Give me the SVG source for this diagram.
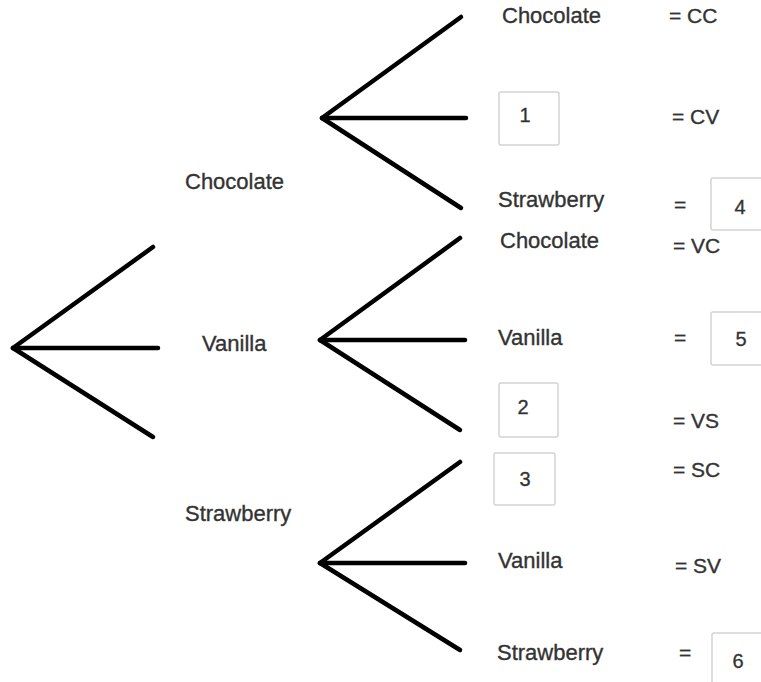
<svg xmlns="http://www.w3.org/2000/svg" width="761" height="682" viewBox="0 0 761 682">
<style>
.lbl{font-family:"Liberation Sans",Arial,sans-serif;font-size:22px;fill:#333;stroke:#333;stroke-width:0.35;}
.eq{font-family:"Liberation Sans",Arial,sans-serif;font-size:21px;fill:#333;stroke:#333;stroke-width:0.35;}
.num{font-family:"Liberation Sans",Arial,sans-serif;font-size:20px;fill:#333;stroke:#333;stroke-width:0.3;text-anchor:middle;}
.box{fill:#fff;stroke:#d4d4d4;stroke-width:1.5;}
.br{stroke:#000;stroke-width:4.5;stroke-linecap:round;fill:none;}
</style>
<rect width="761" height="682" fill="#fff"/>
<g id="connectors">
<line class="br" x1="13" y1="348" x2="153" y2="247"/>
<line class="br" x1="13" y1="348" x2="158" y2="348"/>
<line class="br" x1="13" y1="348" x2="153" y2="437"/>
<line class="br" x1="322" y1="118" x2="461" y2="17"/>
<line class="br" x1="322" y1="118" x2="466" y2="118"/>
<line class="br" x1="322" y1="118" x2="461" y2="208"/>
<line class="br" x1="320" y1="340" x2="460" y2="238"/>
<line class="br" x1="320" y1="340" x2="465" y2="340"/>
<line class="br" x1="320" y1="340" x2="460" y2="430"/>
<line class="br" x1="320" y1="563" x2="460" y2="462"/>
<line class="br" x1="320" y1="563" x2="465" y2="563"/>
<line class="br" x1="320" y1="563" x2="460" y2="650"/>
</g>
<g id="l1-chocolate"><text class="lbl" x="185" y="189">Chocolate</text></g>
<g id="l1-vanilla"><text class="lbl" x="202" y="351">Vanilla</text></g>
<g id="l1-strawberry"><text class="lbl" x="185" y="521">Strawberry</text></g>
<g id="cc"><text class="lbl" x="502" y="23">Chocolate</text><text class="eq" x="669" y="23">= CC</text></g>
<g id="cv"><rect class="box" x="499" y="92" width="60" height="53" rx="2"/><text class="num" x="525" y="122">1</text><text class="eq" x="672" y="124">= CV</text></g>
<g id="cs"><text class="lbl" x="498" y="207">Strawberry</text><text class="eq" x="674" y="212">=</text><rect class="box" x="711" y="178" width="60" height="52" rx="2"/><text class="num" x="740" y="214">4</text></g>
<g id="vc"><text class="lbl" x="500" y="248">Chocolate</text><text class="eq" x="673" y="253">= VC</text></g>
<g id="vv"><text class="lbl" x="498" y="345">Vanilla</text><text class="eq" x="674" y="345">=</text><rect class="box" x="711" y="312" width="60" height="53" rx="2"/><text class="num" x="741" y="346">5</text></g>
<g id="vs"><rect class="box" x="499" y="383" width="59" height="54" rx="2"/><text class="num" x="523" y="414">2</text><text class="eq" x="673" y="428">= VS</text></g>
<g id="sc"><rect class="box" x="494" y="453" width="61" height="52" rx="2"/><text class="num" x="525" y="486">3</text><text class="eq" x="673" y="477">= SC</text></g>
<g id="sv"><text class="lbl" x="498" y="568">Vanilla</text><text class="eq" x="675" y="573">= SV</text></g>
<g id="ss"><text class="lbl" x="497" y="660">Strawberry</text><text class="eq" x="679" y="660">=</text><rect class="box" x="712" y="633" width="60" height="60" rx="2"/><text class="num" x="738" y="668">6</text></g>
</svg>
